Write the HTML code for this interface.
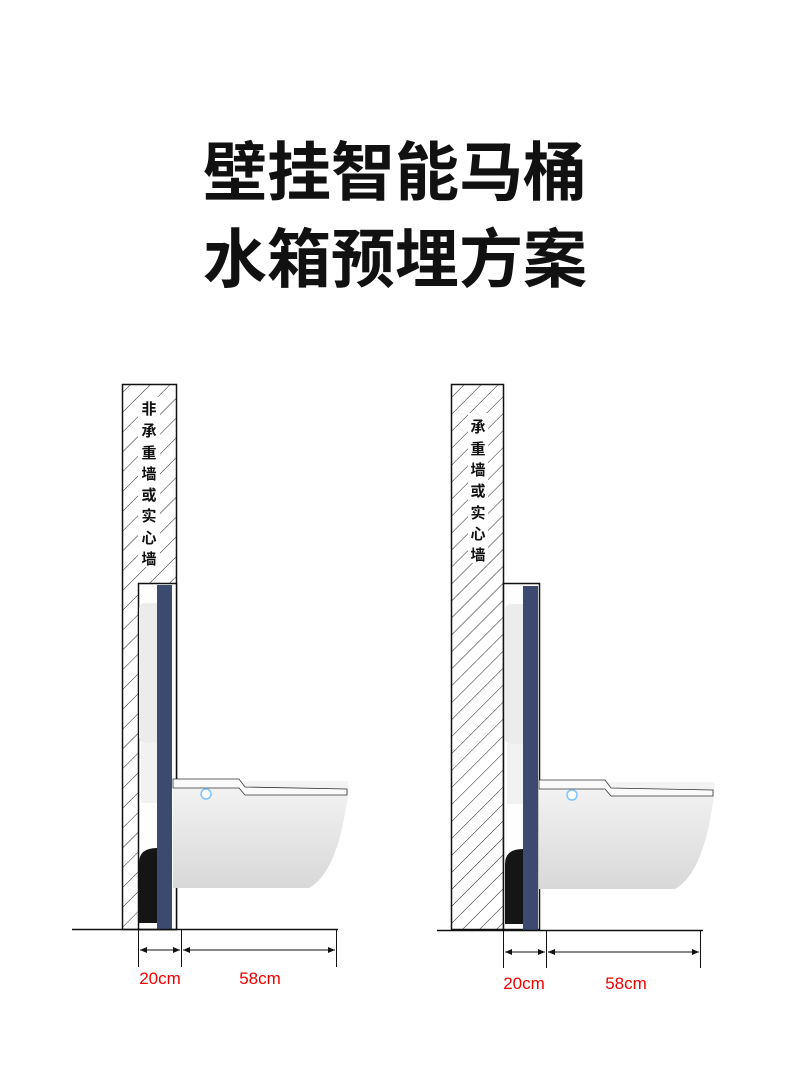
<!DOCTYPE html>
<html><head><meta charset="utf-8"><style>
body{margin:0;background:#fff;width:790px;height:1066px;overflow:hidden;font-family:"Liberation Sans","Noto Sans CJK SC",sans-serif}
.t{position:absolute;left:0;width:790px;text-align:center;font-family:"Noto Sans CJK SC",sans-serif;font-weight:700;font-size:64px;line-height:1;color:#111}
</style></head><body>
<div class="t" style="top:136px">壁挂智能马桶</div>
<div class="t" style="top:223px">水箱预埋方案</div>
<svg width="790" height="1066" style="position:absolute;left:0;top:0">
<defs>
<pattern id="h1" width="14" height="14" patternUnits="userSpaceOnUse" patternTransform="rotate(45)"><line x1="0" y1="0" x2="0" y2="14" stroke="#222" stroke-width="1"/></pattern>
<pattern id="h2" width="12" height="12" patternUnits="userSpaceOnUse" patternTransform="rotate(45)"><line x1="0" y1="0" x2="0" y2="12" stroke="#222" stroke-width="1"/></pattern>
<linearGradient id="bowl" x1="0" y1="0" x2="0" y2="1"><stop offset="0" stop-color="#f4f4f4"/><stop offset="1" stop-color="#d8d8d8"/></linearGradient>
<marker id="ar" markerWidth="8" markerHeight="8" refX="7" refY="4" orient="auto-start-reverse"><path d="M0,1 L7,4 L0,7 Z" fill="#111"/></marker>
<g id="toilet">
<rect x="0" y="20" width="24" height="140" rx="6" fill="#ececec"/>
<rect x="2" y="160" width="20" height="60" fill="#f2f2f2"/>
<path d="M0,280 Q0,265 18,265 L18,340 L0,340 Z" fill="#151515"/>
<rect x="18" y="2" width="15" height="345" fill="#3c4a70"/>
<path d="M34,198 L208,198 Q212,200 206,230 Q196,290 170,305 L34,305 Z" fill="url(#bowl)"/>
<path d="M34,196 L100,196 L106,204 L208,206 L208,212 L106,212 L100,205 L34,205 Z" fill="#fafafa" stroke="#333" stroke-width="0.8"/>
<circle cx="67" cy="211" r="5" fill="#fff" stroke="#7ec3ff" stroke-width="1.5"/>
</g>
</defs>

<rect x="122.5" y="384.5" width="54" height="545" fill="url(#h1)" stroke="#111" stroke-width="1.5"/>
<rect x="138" y="397" width="22" height="170" fill="#fff"/>
<rect x="138.5" y="583.5" width="38" height="346" fill="#fff" stroke="#111" stroke-width="1.5"/>
<g font-family="Noto Sans CJK SC,sans-serif" font-size="15" font-weight="bold" text-anchor="middle" fill="#111">
<text x="149" y="414">非</text><text x="149" y="436">承</text><text x="149" y="458">重</text><text x="149" y="479">墙</text><text x="149" y="500">或</text><text x="149" y="521">实</text><text x="149" y="543">心</text><text x="149" y="564">墙</text>
</g>
<use href="#toilet" x="139" y="583"/>
<line x1="72" y1="929.5" x2="338" y2="929.5" stroke="#111" stroke-width="1.5"/>
<g stroke="#111" stroke-width="1">
<line x1="138.5" y1="929" x2="138.5" y2="967"/><line x1="181.5" y1="929" x2="181.5" y2="967"/><line x1="336.5" y1="929" x2="336.5" y2="967"/>
<line x1="140" y1="950" x2="180" y2="950" marker-start="url(#ar)" marker-end="url(#ar)"/>
<line x1="183" y1="950" x2="335" y2="950" marker-start="url(#ar)" marker-end="url(#ar)"/>
</g>
<g fill="#e00" font-size="17" text-anchor="middle" font-family="Liberation Sans,sans-serif">
<text x="160" y="984">20cm</text><text x="260" y="984">58cm</text>
<text x="524" y="989">20cm</text><text x="626" y="989">58cm</text>
</g>

<rect x="451.5" y="384.5" width="52" height="545" fill="url(#h2)" stroke="#111" stroke-width="1.5"/>
<rect x="468" y="413" width="20" height="150" fill="#fff"/>
<g font-family="Noto Sans CJK SC,sans-serif" font-size="15" font-weight="bold" text-anchor="middle" fill="#111">
<text x="478" y="432">承</text><text x="478" y="454">重</text><text x="478" y="475">墙</text><text x="478" y="496">或</text><text x="478" y="518">实</text><text x="478" y="539">心</text><text x="478" y="560">墙</text>
</g>
<rect x="503.5" y="583.5" width="36" height="346" fill="#fff" stroke="#111" stroke-width="1.5"/>
<use href="#toilet" x="505" y="584"/>
<line x1="437" y1="930.5" x2="703" y2="930.5" stroke="#111" stroke-width="1.5"/>
<g stroke="#111" stroke-width="1">
<line x1="503.5" y1="930" x2="503.5" y2="968"/><line x1="546.5" y1="930" x2="546.5" y2="968"/><line x1="700.5" y1="930" x2="700.5" y2="968"/>
<line x1="505" y1="952" x2="545" y2="952" marker-start="url(#ar)" marker-end="url(#ar)"/>
<line x1="548" y1="952" x2="699" y2="952" marker-start="url(#ar)" marker-end="url(#ar)"/>
</g>
</svg>
</body></html>
